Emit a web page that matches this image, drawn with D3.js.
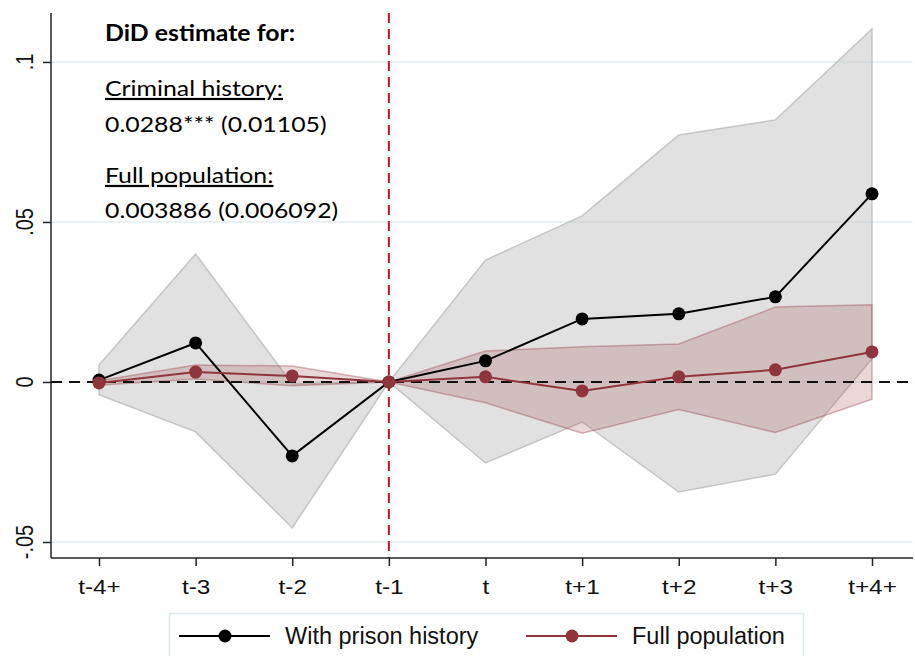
<!DOCTYPE html>
<html>
<head>
<meta charset="utf-8">
<script src="https://cdn.jsdelivr.net/npm/d3@7"></script>
<style>
  body { margin: 0; background: #fff; }
  svg { display: block; }
</style>
</head>
<body>
<div class="chart"></div>
<script>
const width = 915;
const height = 656;

const periods = ["t-4+", "t-3", "t-2", "t-1", "t", "t+1", "t+2", "t+3", "t+4+"];
const yTicks = [-0.05, 0, 0.05, 0.1];
const yTickLabels = ["-.05", "0", ".05", ".1"];

// with prison history
const prisonEst = [0.0006, 0.0122, -0.0231, 0, 0.0066, 0.0197, 0.0213, 0.0266, 0.0588];
const prisonLo = [-0.0040, -0.0156, -0.0456, 0, -0.0253, -0.0125, -0.0344, -0.0288, 0.0073];
const prisonHi = [0.0053, 0.0400, -0.0006, 0, 0.0381, 0.0519, 0.0772, 0.0819, 0.1103];

// full population
const fullEst = [-0.0003, 0.0031, 0.0019, 0, 0.0016, -0.0028, 0.0016, 0.0038, 0.0094];
const fullLo = [-0.0010, 0.0009, -0.0012, 0, -0.0065, -0.0160, -0.0086, -0.0158, -0.0054];
const fullHi = [0.0004, 0.0053, 0.0050, 0, 0.0097, 0.0110, 0.0119, 0.0234, 0.0241];

const plot = { left: 51, right: 913, top: 13, bottom: 558 };

const svg = d3.select(".chart").append("svg")
  .attr("width", width)
  .attr("height", height);

const xScale = d3.scalePoint()
  .domain(periods)
  .range([99, 872]);

const yScale = d3.scaleLinear()
  .domain([-0.0550, 0.1153])
  .range([plot.bottom, plot.top]);

// gridlines
svg.append("g")
  .selectAll("line")
  .data(yTicks)
  .enter()
  .append("line")
  .attr("x1", plot.left)
  .attr("x2", plot.right)
  .attr("y1", (d) => yScale(d))
  .attr("y2", (d) => yScale(d))
  .attr("stroke", "#e3eef2")
  .attr("stroke-width", 1.5);

const area = (lo, hi) => d3.area()
  .x((d, i) => xScale(periods[i]))
  .y0((d, i) => yScale(lo[i]))
  .y1((d, i) => yScale(hi[i]))(periods);

const line = (vals) => d3.line()
  .x((d, i) => xScale(periods[i]))
  .y((d) => yScale(d))(vals);

// confidence bands
svg.append("path")
  .attr("d", area(prisonLo, prisonHi))
  .attr("fill", "#c8c8c8")
  .attr("fill-opacity", 0.55)
  .attr("stroke", "#b4b4b4")
  .attr("stroke-opacity", 0.7)
  .attr("stroke-width", 1.5);

svg.append("path")
  .attr("d", area(fullLo, fullHi))
  .attr("fill", "#90353b")
  .attr("fill-opacity", 0.2)
  .attr("stroke", "#90353b")
  .attr("stroke-opacity", 0.35)
  .attr("stroke-width", 1.5);

// reference lines
svg.append("line")
  .attr("x1", plot.left)
  .attr("x2", plot.right)
  .attr("y1", yScale(0))
  .attr("y2", yScale(0))
  .attr("stroke", "#111")
  .attr("stroke-width", 2.2)
  .attr("stroke-dasharray", "11,7");

svg.append("line")
  .attr("x1", xScale("t-1"))
  .attr("x2", xScale("t-1"))
  .attr("y1", plot.top)
  .attr("y2", plot.bottom)
  .attr("stroke", "#c8102e")
  .attr("stroke-width", 2)
  .attr("stroke-dasharray", "10,6");

// series
svg.append("path")
  .attr("d", line(prisonEst))
  .attr("fill", "none")
  .attr("stroke", "#000")
  .attr("stroke-width", 2);

svg.append("g")
  .selectAll("circle")
  .data(prisonEst)
  .enter()
  .append("circle")
  .attr("cx", (d, i) => xScale(periods[i]))
  .attr("cy", (d) => yScale(d))
  .attr("r", 6.5)
  .attr("fill", "#000");

svg.append("path")
  .attr("d", line(fullEst))
  .attr("fill", "none")
  .attr("stroke", "#90353b")
  .attr("stroke-width", 2);

svg.append("g")
  .selectAll("circle")
  .data(fullEst)
  .enter()
  .append("circle")
  .attr("cx", (d, i) => xScale(periods[i]))
  .attr("cy", (d) => yScale(d))
  .attr("r", 6.5)
  .attr("fill", "#90353b");

// axes
let yAxis = d3.axisLeft(yScale)
  .tickValues(yTicks)
  .tickSize(8)
  .tickFormat("");
svg.append("g")
  .attr("transform", "translate(" + plot.left + ",0)")
  .call(yAxis)
  .call((g) => g.select(".domain").attr("d", "M0," + plot.top + "V" + plot.bottom))
  .call((g) => g.selectAll("path, line").attr("stroke", "#222").attr("stroke-width", 1.5));

svg.append("g")
  .selectAll("text")
  .data(yTicks)
  .enter()
  .append("text")
  .text((d, i) => yTickLabels[i])
  .attr("transform", (d) => "translate(33," + yScale(d) + ") scale(1.2,1) rotate(-90)")
  .attr("text-anchor", "middle")
  .attr("font-family", "Liberation Sans, Arial, sans-serif")
  .attr("font-size", 20)
  .attr("fill", "#111");

let xAxis = d3.axisBottom(xScale).tickSize(8);
svg.append("g")
  .attr("transform", "translate(0," + plot.bottom + ")")
  .call(xAxis)
  .call((g) => g.select(".domain").attr("d", "M" + plot.left + ",0H" + plot.right))
  .call((g) => g.selectAll("path, line").attr("stroke", "#222").attr("stroke-width", 1.5))
  .call((g) => g.selectAll("text")
    .attr("y", 36)
    .attr("dy", null)
    .attr("transform", "scale(1.16,1)")
    .attr("font-family", "Liberation Sans, Arial, sans-serif")
    .attr("font-size", 21)
    .attr("fill", "#111"));

// annotation
const note = svg.append("g")
  .attr("font-family", "Lato, Carlito, Calibri, sans-serif")
  .attr("font-size", 22)
  .attr("fill", "#000");
const noteLines = [
  { text: "DiD estimate for:", y: 41, bold: true },
  { text: "Criminal history:", y: 96, under: true },
  { text: "0.0288*** (0.01105)", y: 132 },
  { text: "Full population:", y: 183, under: true },
  { text: "0.003886 (0.006092)", y: 218 },
];
noteLines.forEach((d) => {
  note.append("text")
    .text(d.text)
    .attr("transform", "translate(105," + d.y + ") scale(1.13,1)")
    .attr("font-weight", d.bold ? "bold" : null)
    .attr("text-decoration", d.under ? "underline" : null);
});

// legend
const legend = svg.append("g");
legend.append("rect")
  .attr("x", 169.5)
  .attr("y", 613.5)
  .attr("width", 634)
  .attr("height", 50)
  .attr("fill", "#fff")
  .attr("stroke", "#dde9ee")
  .attr("stroke-width", 1.5);

const legendItems = [
  { label: "With prison history", color: "#000", x: 179 },
  { label: "Full population", color: "#90353b", x: 526 },
];
legendItems.forEach((d) => {
  legend.append("line")
    .attr("x1", d.x).attr("x2", d.x + 91)
    .attr("y1", 636).attr("y2", 636)
    .attr("stroke", d.color).attr("stroke-width", 2);
  legend.append("circle")
    .attr("cx", d.x + 46).attr("cy", 636).attr("r", 6.5)
    .attr("fill", d.color);
  legend.append("text")
    .text(d.label)
    .attr("x", d.x + 106)
    .attr("y", 644)
    .attr("font-family", "Liberation Sans, Arial, sans-serif")
    .attr("font-size", 23.5)
    .attr("fill", "#111");
});
</script>
</body>
</html>
